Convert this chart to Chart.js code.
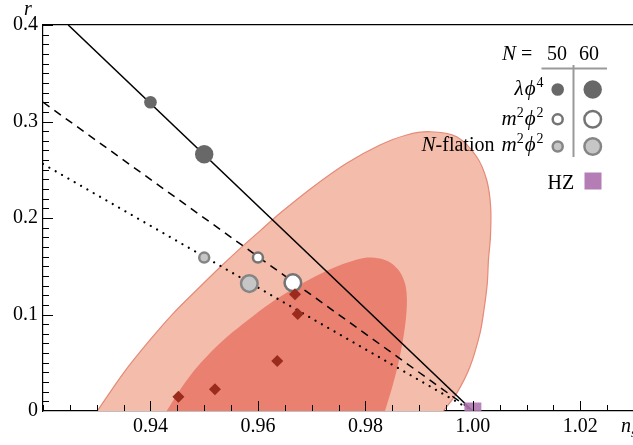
<!DOCTYPE html>
<html><head><meta charset="utf-8">
<script src="https://cdn.jsdelivr.net/npm/chart.js@4"></script>
<style>html,body{margin:0;padding:0;background:#fff;overflow:hidden}</style>
</head><body>
<canvas id="c" width="633" height="445" style="display:block;width:633px;height:445px"></canvas>
<script>
// ---- axis ranges and ticks ----
const xRange = [0.92, 1.0298];
const yRange = [0, 0.4];
const xMajorTicks = [0.94, 0.96, 0.98, 1.00, 1.02];
const xTickLabels = ['0.94', '0.96', '0.98', '1.00', '1.02'];
const yMajorTicks = [0, 0.1, 0.2, 0.3, 0.4];
const yTickLabels = ['0', '0.1', '0.2', '0.3', '0.4'];
const xMinorStep = 0.005;
const yMinorStep = 0.01;

// ---- confidence contours (boundary) ----
const outerNs = [0.93010, 0.93494, 0.93991, 0.94425, 0.94860, 0.95294, 0.95666, 0.96038, 0.96410, 0.97030, 0.97651, 0.98271, 0.98768, 0.99201, 0.99698, 1.00070, 1.00257, 1.00331, 1.00327, 1.00290, 1.00268, 1.00206, 1.00132, 0.99946, 0.99698, 0.99449];
const outerR  = [0.0, 0.0391, 0.0736, 0.1012, 0.1254, 0.1490, 0.1683, 0.1867, 0.2049, 0.2324, 0.2567, 0.2756, 0.2860, 0.2894, 0.2842, 0.2635, 0.2394, 0.2117, 0.1806, 0.1565, 0.1323, 0.1047, 0.0805, 0.0459, 0.0183, 0.0];
const innerNs = [0.94302, 0.94512, 0.94791, 0.95108, 0.95443, 0.95815, 0.96224, 0.96652, 0.97080, 0.97489, 0.97787, 0.98029, 0.98271, 0.98476, 0.98643, 0.98745, 0.98773, 0.98755, 0.98699, 0.98606, 0.98494, 0.98364];
const innerR  = [0.0, 0.0187, 0.0404, 0.0601, 0.0777, 0.0943, 0.1114, 0.1264, 0.1399, 0.1503, 0.1560, 0.1591, 0.1580, 0.1534, 0.1440, 0.1306, 0.1150, 0.0964, 0.0736, 0.0477, 0.0238, 0.0];

// ---- model lines ----
const lambdaLineNs = [0.9247, 1.0];
const lambdaLineR  = [0.4, 0.0];
const m2LineNs = [0.92, 1.0];
const m2LineR  = [0.32, 0.0];
const nflLineNs = [0.92, 1.0];
const nflLineR  = [0.256, 0.0];

// ---- model points (N = 50, 60) ----
const legendN = ['50', '60'];
const lambdaNs = [0.94, 0.950];
const lambdaR  = [0.32, 0.266];
const m2Ns = [0.960, 0.9665];
const m2R  = [0.159, 0.133];
const nflNs = [0.950, 0.9584];
const nflR  = [0.159, 0.132];

// ---- other points ----
const diamondNs = [0.9452, 0.9520, 0.9636, 0.9669, 0.9674];
const diamondR  = [0.0148, 0.0225, 0.0518, 0.121, 0.1005];
const hzNs = [1.0];
const hzR  = [0.0];

const pts = (xs, ys) => xs.map((x, i) => ({x: x, y: ys[i]}));
const SERIF = '"Liberation Serif", "Times New Roman", "DejaVu Serif", serif';

function rich(ctx, parts, x, y, align) {
  const fontFor = p => (p[1].indexOf('i') >= 0 ? 'italic ' : '') + (p[1].indexOf('s') >= 0 ? '14px ' : (p[1].indexOf('i') >= 0 ? '21px ' : '20px ')) + SERIF;
  let w = 0;
  parts.forEach(p => { ctx.font = fontFor(p); w += ctx.measureText(p[0]).width + (p[2] || 0); });
  let cx = align === 'right' ? x - w : x;
  parts.forEach(p => {
    ctx.font = fontFor(p);
    ctx.fillText(p[0], cx, p[1].indexOf('s') >= 0 ? y - 8 : y);
    cx += ctx.measureText(p[0]).width + (p[2] || 0);
  });
}

const decorations = {
  id: 'decorations',
  afterDraw(chart) {
    const {ctx, chartArea: a, scales: {x, y}} = chart;
    ctx.save();
    // inward tick marks
    ctx.strokeStyle = '#000';
    ctx.lineWidth = 1;
    ctx.beginPath();
    for (let k = Math.ceil(xRange[0] / xMinorStep); k * xMinorStep <= xRange[1]; k++) {
      const v = k * xMinorStep;
      const major = xMajorTicks.some(t => Math.abs(t - v) < 1e-9);
      const px = Math.round(x.getPixelForValue(v)) + 0.5;
      ctx.moveTo(px, a.bottom);
      ctx.lineTo(px, a.bottom - (major ? 10 : 6));
    }
    for (let k = 1; k * yMinorStep <= yRange[1] + 1e-9; k++) {
      const v = k * yMinorStep;
      const major = yMajorTicks.some(t => Math.abs(t - v) < 1e-9);
      const py = Math.round(y.getPixelForValue(v)) + 0.5;
      ctx.moveTo(a.left, py);
      ctx.lineTo(a.left + (major ? 10 : 6), py);
    }
    ctx.stroke();

    ctx.fillStyle = '#000';
    ctx.textBaseline = 'alphabetic';
    ctx.textAlign = 'left';
    // axis labels
    ctx.font = 'italic 20px ' + SERIF;
    ctx.fillText('r', 24, 15);
    ctx.fillText('n', 621, 432);
    ctx.font = 'italic 13px ' + SERIF;
    ctx.fillText('s', 631, 437);

    // legend header
    ctx.font = 'italic 21px ' + SERIF;
    ctx.fillText('N', 502, 60);
    ctx.font = '20px ' + SERIF;
    ctx.fillText('=', 521, 60);
    ctx.fillText(legendN[0], 547, 60);
    ctx.fillText(legendN[1], 579, 60);
    ctx.strokeStyle = '#9a9a9a';
    ctx.lineWidth = 2;
    ctx.beginPath();
    ctx.moveTo(541.5, 68.5); ctx.lineTo(607, 68.5);
    ctx.moveTo(573.5, 65); ctx.lineTo(573.5, 157);
    ctx.stroke();

    // legend rows
    rich(ctx, [['λ', 'i', 1], ['ϕ', 'i', 1], ['4', 's']], 543.5, 95, 'right');
    rich(ctx, [['m', 'i'], ['2', 's', 1], ['ϕ', 'i', 1], ['2', 's']], 543.5, 124.5, 'right');
    rich(ctx, [['N', 'i'], ['-flation ', 'n', 2], ['m', 'i'], ['2', 's', 1], ['ϕ', 'i', 1], ['2', 's']], 543.5, 151, 'right');

    const circle = (cx, cy, r, fill, stroke, bw) => {
      ctx.beginPath();
      ctx.arc(cx, cy, r, 0, Math.PI * 2);
      ctx.fillStyle = fill; ctx.fill();
      if (bw) { ctx.lineWidth = bw; ctx.strokeStyle = stroke; ctx.stroke(); }
    };
    circle(557.7, 89.5, 6.3, '#686868', null, 0);
    circle(592.7, 89.5, 9.2, '#686868', null, 0);
    circle(557.7, 119.3, 5, '#ffffff', '#747474', 2.5);
    circle(592.7, 119.3, 8.3, '#ffffff', '#747474', 2.5);
    circle(557.7, 146.5, 5, '#c6c6c6', '#858585', 2.5);
    circle(592.7, 146.5, 8.3, '#c6c6c6', '#858585', 2.5);

    ctx.fillStyle = '#000';
    ctx.font = '20px ' + SERIF;
    ctx.fillText('HZ', 547.5, 188.5);
    ctx.fillStyle = '#b57db5';
    ctx.fillRect(584.5, 172.5, 17, 17);
    ctx.restore();
  }
};

new Chart(document.getElementById('c'), {
  type: 'scatter',
  data: {
    datasets: [
      {label: 'HZ', data: pts(hzNs, hzR), pointStyle: 'rect', pointRadius: 12, pointBackgroundColor: 'rgba(176,118,176,0.9)', pointBorderWidth: 0, order: 0},
      {label: 'diamonds', data: pts(diamondNs, diamondR), pointStyle: 'rectRot', pointRadius: 6, pointBackgroundColor: '#9a2b1d', pointBorderWidth: 0, order: 1},
      {label: 'lambda', data: pts(lambdaNs, lambdaR), pointRadius: [6.3, 9.2], pointBackgroundColor: '#686868', pointBorderWidth: 0, order: 2},
      {label: 'm2', data: pts(m2Ns, m2R), pointRadius: [5, 8.3], pointBackgroundColor: '#ffffff', pointBorderColor: '#747474', pointBorderWidth: 2.5, order: 2},
      {label: 'nfl', data: pts(nflNs, nflR), pointRadius: [5, 8.3], pointBackgroundColor: '#c6c6c6', pointBorderColor: '#858585', pointBorderWidth: 2.5, order: 2},
      {label: 'lambdaLine', data: pts(lambdaLineNs, lambdaLineR), showLine: true, pointRadius: 0, borderColor: '#000', borderWidth: 1.5, order: 5},
      {label: 'm2Line', data: pts(m2LineNs, m2LineR), showLine: true, pointRadius: 0, borderColor: '#000', borderWidth: 1.5, borderDash: [8, 6], order: 5},
      {label: 'nflLine', data: pts(nflLineNs, nflLineR), showLine: true, pointRadius: 0, borderColor: '#000', borderWidth: 2.2, borderDash: [0.01, 7.3], borderCapStyle: 'round', order: 5},
      {label: 'inner', data: pts(innerNs, innerR), showLine: true, pointRadius: 0, borderWidth: 0, borderColor: '#e98070', backgroundColor: '#e98070', fill: 'shape', tension: 0.3, order: 8},
      {label: 'outer', data: pts(outerNs, outerR), showLine: true, pointRadius: 0, borderWidth: 1.2, borderColor: '#e58a78', backgroundColor: '#f4bcaa', fill: 'shape', tension: 0.3, order: 9}
    ]
  },
  options: {
    responsive: false,
    animation: false,
    devicePixelRatio: 1,
    layout: {padding: 0, autoPadding: false},
    plugins: {legend: {display: false}, tooltip: {enabled: false}},
    scales: {
      x: {
        type: 'linear', position: 'bottom', min: xRange[0], max: xRange[1],
        afterFit: s => { s.height = 34; },
        afterBuildTicks: s => { s.ticks = xMajorTicks.map(v => ({value: v})); },
        ticks: {callback: (v, i) => xTickLabels[i], font: {family: SERIF, size: 20}, color: '#000', padding: 4, maxRotation: 0, autoSkip: false},
        grid: {display: false, drawTicks: false},
        border: {display: true, color: '#000', width: 1.2}
      },
      x2: {
        type: 'linear', position: 'top', min: xRange[0], max: xRange[1],
        afterFit: s => { s.height = 25; },
        ticks: {display: false},
        grid: {display: false, drawTicks: false},
        border: {display: true, color: '#000', width: 1.2}
      },
      y: {
        type: 'linear', position: 'left', min: yRange[0], max: yRange[1],
        afterFit: s => { s.width = 43; },
        afterBuildTicks: s => { s.ticks = yMajorTicks.map(v => ({value: v})); },
        ticks: {callback: (v, i) => yTickLabels[i], font: {family: SERIF, size: 20}, color: '#000', padding: 5, autoSkip: false},
        grid: {display: false, drawTicks: false},
        border: {display: true, color: '#000', width: 1.2}
      }
    }
  },
  plugins: [decorations]
});
</script>
</body></html>
